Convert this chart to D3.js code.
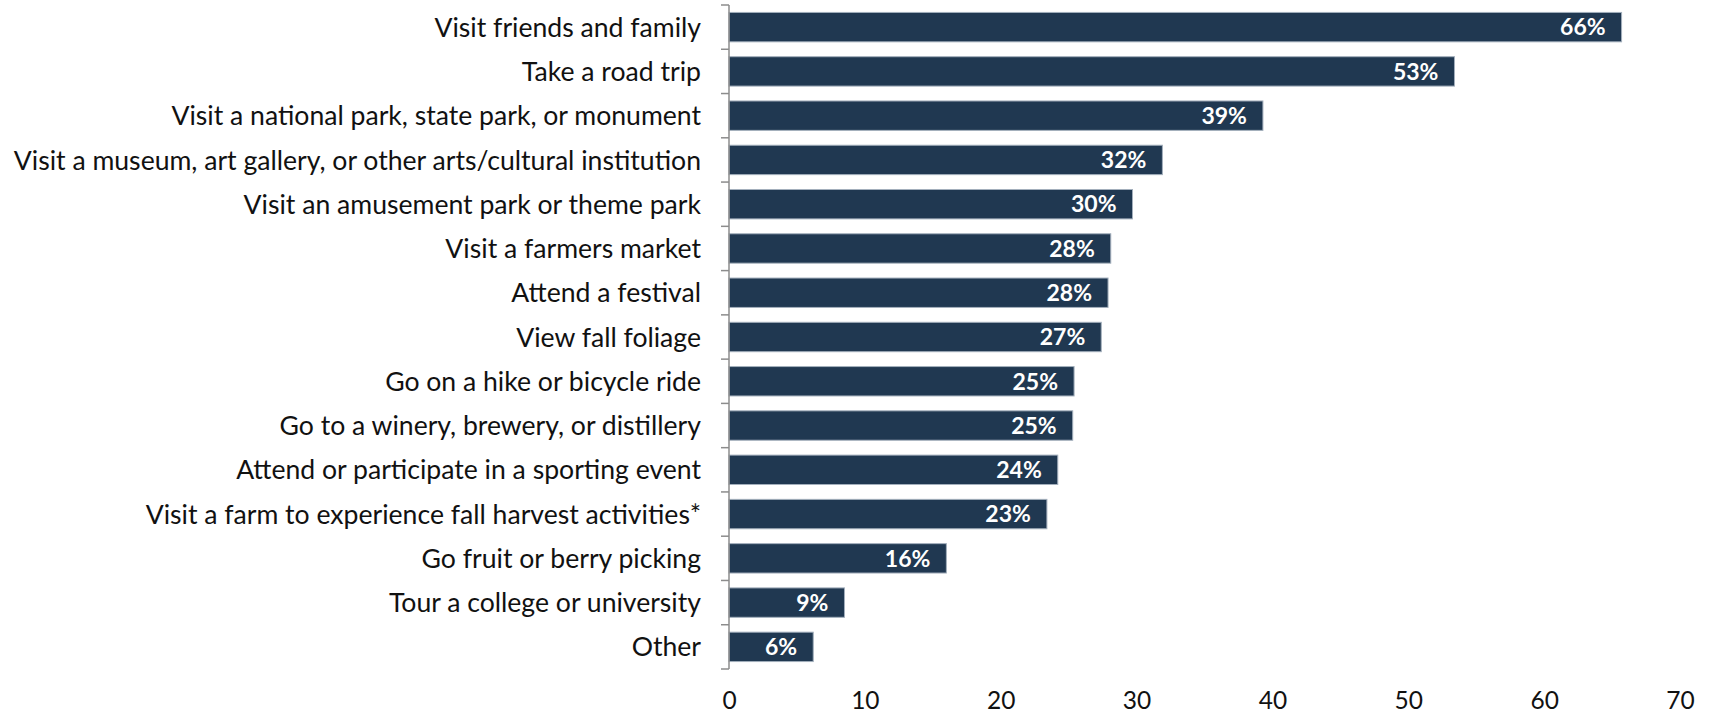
<!DOCTYPE html>
<html>
<head>
<meta charset="utf-8">
<script src="https://cdn.jsdelivr.net/npm/d3@7"></script>
<style>
  html, body { margin: 0; padding: 0; background: #fff; }
  svg { display: block; }
  text { font-family: Lato, "Open Sans", sans-serif; }
</style>
</head>
<body>
<svg id="chart" width="1711" height="717"></svg>
<script>
// Share of respondents planning each fall activity (%)
const categories = [
  "Visit friends and family",
  "Take a road trip",
  "Visit a national park, state park, or monument",
  "Visit a museum, art gallery, or other arts/cultural institution",
  "Visit an amusement park or theme park",
  "Visit a farmers market",
  "Attend a festival",
  "View fall foliage",
  "Go on a hike or bicycle ride",
  "Go to a winery, brewery, or distillery",
  "Attend or participate in a sporting event",
  "Visit a farm to experience fall harvest activities*",
  "Go fruit or berry picking",
  "Tour a college or university",
  "Other"
];
const values = [65.7, 53.4, 39.3, 31.9, 29.7, 28.1, 27.9, 27.4, 25.4, 25.3, 24.2, 23.4, 16.0, 8.5, 6.2];
const xTicks = [0, 10, 20, 30, 40, 50, 60, 70];

const data = categories.map((c, i) => ({ category: c, value: values[i] }));

const svg = d3.select("#chart");
const margin = { left: 729, right: 31, top: 5, bottom: 48 };
const W = 1711, H = 717;

const x = d3.scaleLinear().domain([0, 70]).range([margin.left, W - margin.right]);
const y = d3.scaleBand()
  .domain(categories)
  .range([margin.top, H - margin.bottom])
  .paddingInner(0.336)
  .paddingOuter(0.168);

// Bars
svg.append("g")
  .selectAll("rect")
  .data(data)
  .join("rect")
  .attr("x", x(0))
  .attr("y", d => y(d.category))
  .attr("width", d => x(d.value) - x(0))
  .attr("height", y.bandwidth())
  .attr("fill", "#203851")
  .attr("stroke", "#a3afbc")
  .attr("stroke-width", 1);

// Value labels inside the bar ends
svg.append("g")
  .selectAll("text")
  .data(data)
  .join("text")
  .attr("x", d => x(d.value) - 16)
  .attr("y", d => y(d.category) + y.bandwidth() / 2)
  .attr("dy", "0.36em")
  .attr("text-anchor", "end")
  .attr("fill", "#ffffff")
  .attr("font-weight", 700)
  .attr("font-size", 23)
  .text(d => d3.format(".0f")(d.value) + "%");

// Category axis: vertical line with ticks at category boundaries
const step = y.step();
const yAxisG = svg.append("g");
yAxisG.append("line")
  .attr("x1", x(0)).attr("x2", x(0))
  .attr("y1", margin.top).attr("y2", margin.top + step * categories.length)
  .attr("stroke", "#8c8c8c").attr("stroke-width", 1.5);
yAxisG.selectAll("line.tick")
  .data(d3.range(categories.length + 1))
  .join("line")
  .attr("class", "tick")
  .attr("x1", x(0) - 8).attr("x2", x(0))
  .attr("y1", i => margin.top + i * step)
  .attr("y2", i => margin.top + i * step)
  .attr("stroke", "#8c8c8c").attr("stroke-width", 1.5);

yAxisG.selectAll("text")
  .data(categories)
  .join("text")
  .attr("x", x(0) - 28)
  .attr("y", d => y(d) + y.bandwidth() / 2)
  .attr("dy", "0.36em")
  .attr("text-anchor", "end")
  .attr("fill", "#111")
  .attr("font-size", 26.6)
  .text(d => d);

// Value axis: labels only
const xAxis = d3.axisBottom(x).tickValues(xTicks).tickSize(0).tickPadding(0);
const xg = svg.append("g")
  .attr("transform", `translate(0, ${H - 17})`)
  .call(xAxis);
xg.select(".domain").remove();
xg.selectAll("text")
  .attr("font-size", 24.5)
  .attr("font-family", "Lato, sans-serif")
  .attr("fill", "#111")
  .attr("dy", "0.36em")
  .attr("y", 0);
</script>
</body>
</html>
